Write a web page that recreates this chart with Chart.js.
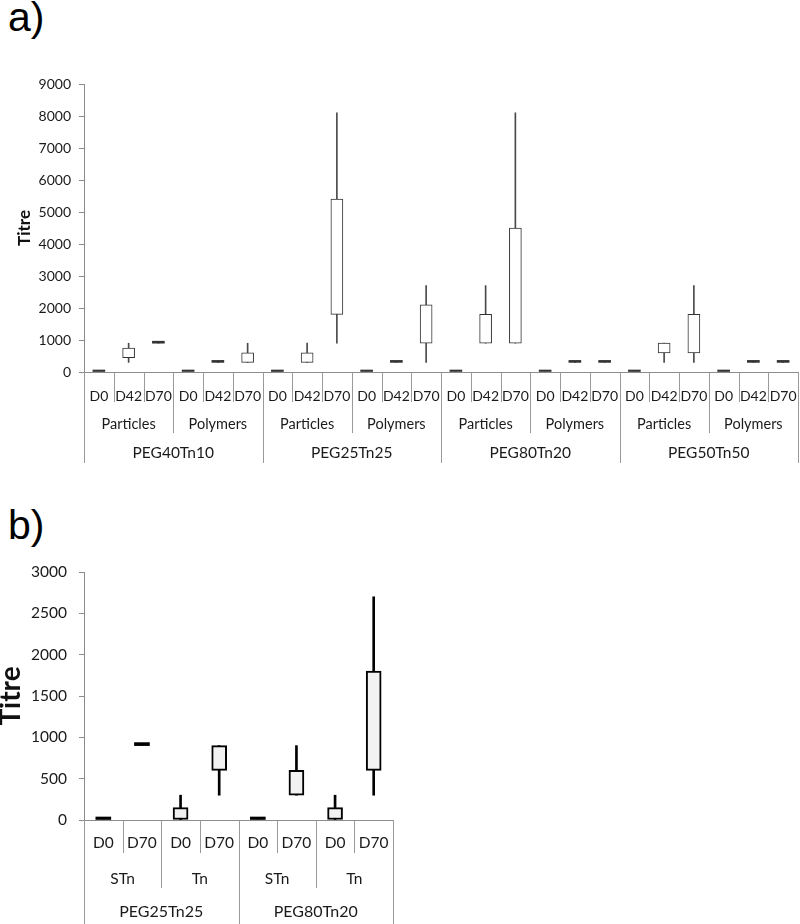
<!DOCTYPE html>
<html>
<head>
<meta charset="utf-8">
<script src="https://cdn.jsdelivr.net/npm/chart.js@4.4.0/dist/chart.umd.min.js"></script>
<style>
  body { margin: 0; width: 800px; height: 924px; background: #fff; position: relative; overflow: hidden; }
  .panel { position: absolute; left: 8px; font-family: 'Liberation Sans', Arial, sans-serif; font-size: 41px; line-height: 1; color: #000; }
  #chartA { position: absolute; left: 0; top: 0; }
  #chartB { position: absolute; left: 0; top: 490px; }
</style>
</head>
<body>
<div class="panel" style="top:-3px">a)</div>
<div class="panel" style="top:505px">b)</div>
<canvas id="chartA" width="800" height="490" style="width:800px;height:490px"></canvas>
<canvas id="chartB" width="800" height="434" style="width:800px;height:434px"></canvas>
<script>
// ---- panel a data ----
const daysA = ['D0','D42','D70','D0','D42','D70','D0','D42','D70','D0','D42','D70',
               'D0','D42','D70','D0','D42','D70','D0','D42','D70','D0','D42','D70'];
const formsA = ['Particles','Polymers','Particles','Polymers','Particles','Polymers','Particles','Polymers'];
const polymersA = ['PEG40Tn10','PEG25Tn25','PEG80Tn20','PEG50Tn50'];
const lowA  = [0, 300, 900, 0, 300, 300,  0, 300,  900, 0, 300,  300,  0,  900,  900, 0, 300, 300,  0, 300,  300, 0, 300, 300];
const q1A   = [0, 450, 900, 0, 300, 300,  0, 300, 1800, 0, 300,  900,  0,  900,  900, 0, 300, 300,  0, 600,  600, 0, 300, 300];
const q3A   = [0, 750, 900, 0, 300, 600,  0, 600, 5400, 0, 300, 2100,  0, 1800, 4500, 0, 300, 300,  0, 900, 1800, 0, 300, 300];
const highA = [0, 900, 900, 0, 300, 900,  0, 900, 8100, 0, 300, 2700,  0, 2700, 8100, 0, 300, 300,  0, 900, 2700, 0, 300, 300];

// ---- panel b data ----
const daysB = ['D0','D70','D0','D70','D0','D70','D0','D70'];
const antigenB = ['STn','Tn','STn','Tn'];
const polymersB = ['PEG25Tn25','PEG80Tn20'];
const lowB  = [0, 900,   0, 300, 0, 300,   0,  300];
const q1B   = [0, 900,   0, 600, 0, 300,   0,  600];
const q3B   = [0, 900, 150, 900, 0, 600, 150, 1800];
const highB = [0, 900, 300, 900, 0, 900, 300, 2700];

Chart.defaults.font.family = 'Lato';
Chart.defaults.color = '#1a1a1a';

// excel-like nested category labels under the x axis
const hierAxis = {
  id: 'hierAxis',
  afterDraw(chart, args, o) {
    const x = chart.scales.x;
    const ctx = chart.ctx;
    const n = o.levels[0].length;
    const y0 = chart.chartArea.bottom;
    ctx.save();
    ctx.strokeStyle = o.lineColor;
    ctx.lineWidth = 1;
    for (let k = 0; k <= n; k++) {
      let depth = 0;
      o.levels.forEach((lab, L) => { if (k % (n / lab.length) === 0) depth = L; });
      const px = Math.round(x.getPixelForValue(k - 0.5)) + 0.5;
      ctx.beginPath();
      ctx.moveTo(px, y0);
      ctx.lineTo(px, y0 + o.rowEnds[depth]);
      ctx.stroke();
    }
    ctx.fillStyle = '#1a1a1a';
    ctx.textAlign = 'center';
    ctx.textBaseline = 'middle';
    o.levels.forEach((lab, L) => {
      const span = n / lab.length;
      ctx.font = o.fontSizes[L] + 'px Lato';
      lab.forEach((t, j) => {
        ctx.fillText(t, x.getPixelForValue(j * span + (span - 1) / 2), y0 + o.labelY[L]);
      });
    });
    ctx.restore();
  }
};

function boxChart(id, s) {
  return new Chart(document.getElementById(id), {
    type: 'bar',
    data: {
      labels: s.labels,
      datasets: [
        {
          data: s.low.map((v, i) => [v, s.high[i]]),
          backgroundColor: s.whiskerColor,
          borderWidth: 0,
          barThickness: s.whiskerWidth,
          grouped: false,
          order: 2
        },
        {
          data: s.q1.map((v, i) => [v, s.q3[i]]),
          // single-value entries come out as a solid dash
          backgroundColor: c => s.q1[c.dataIndex] === s.q3[c.dataIndex] ? s.boxLine : s.boxFill,
          borderColor: s.boxLine,
          borderWidth: c => s.q1[c.dataIndex] === s.q3[c.dataIndex] ? 0 : s.boxLineWidth,
          borderSkipped: false,
          barThickness: s.boxWidth,
          minBarLength: s.minLen,
          grouped: false,
          order: 1
        }
      ]
    },
    options: {
      responsive: false,
      animation: false,
      events: [],
      layout: { padding: s.padding },
      plugins: {
        legend: { display: false },
        tooltip: { enabled: false },
        hierAxis: s.hier
      },
      scales: {
        x: {
          grid: { display: false },
          border: { color: '#8c8c8c' },
          ticks: { display: false },
          afterFit(sc) { sc.height = s.xHeight; }
        },
        y: {
          min: 0,
          max: s.max,
          ticks: { stepSize: s.step, padding: s.tickPad, font: { size: s.tickSize }, callback: v => v },
          grid: { drawOnChartArea: false, tickLength: 5, color: '#8c8c8c' },
          border: { color: '#8c8c8c' },
          title: { display: true, text: 'Titre', color: '#111', font: s.titleFont, padding: s.titlePad },
          afterFit(sc) { sc.width = 84; }
        }
      }
    },
    plugins: [hierAxis]
  });
}

boxChart('chartA', {
  labels: daysA, low: lowA, q1: q1A, q3: q3A, high: highA,
  whiskerColor: '#4a4a4a', whiskerWidth: 1,
  boxFill: '#ffffff', boxLine: '#333', boxLineWidth: 1, boxWidth: 12, minLen: 2,
  padding: { top: 84, right: 2, left: 0, bottom: 0 },
  xHeight: 118, max: 9000, step: 1000, tickPad: 8, tickSize: 14,
  titleFont: { size: 17, weight: 'bold' }, titlePad: { top: 14, bottom: 0 },
  hier: { levels: [daysA, formsA, polymersA], rowEnds: [30, 61, 91], labelY: [24, 52, 81],
          fontSizes: [14, 14.5, 15.5], lineColor: '#9a9a9a' }
});

boxChart('chartB', {
  labels: daysB, low: lowB, q1: q1B, q3: q3B, high: highB,
  whiskerColor: '#000', whiskerWidth: 2,
  boxFill: '#f2f2f2', boxLine: '#000', boxLineWidth: 2, boxWidth: 15, minLen: 3,
  padding: { top: 82, right: 407, left: 0, bottom: 0 },
  xHeight: 104, max: 3000, step: 500, tickPad: 12, tickSize: 15.5,
  titleFont: { size: 28, weight: 'bold', lineHeight: 0.8 }, titlePad: { top: 0, bottom: 0 },
  hier: { levels: [daysB, antigenB, polymersB], rowEnds: [33, 68, 104], labelY: [23, 59, 92],
          fontSizes: [15.5, 15.5, 16], lineColor: '#9a9a9a' }
});
</script>
</body>
</html>
